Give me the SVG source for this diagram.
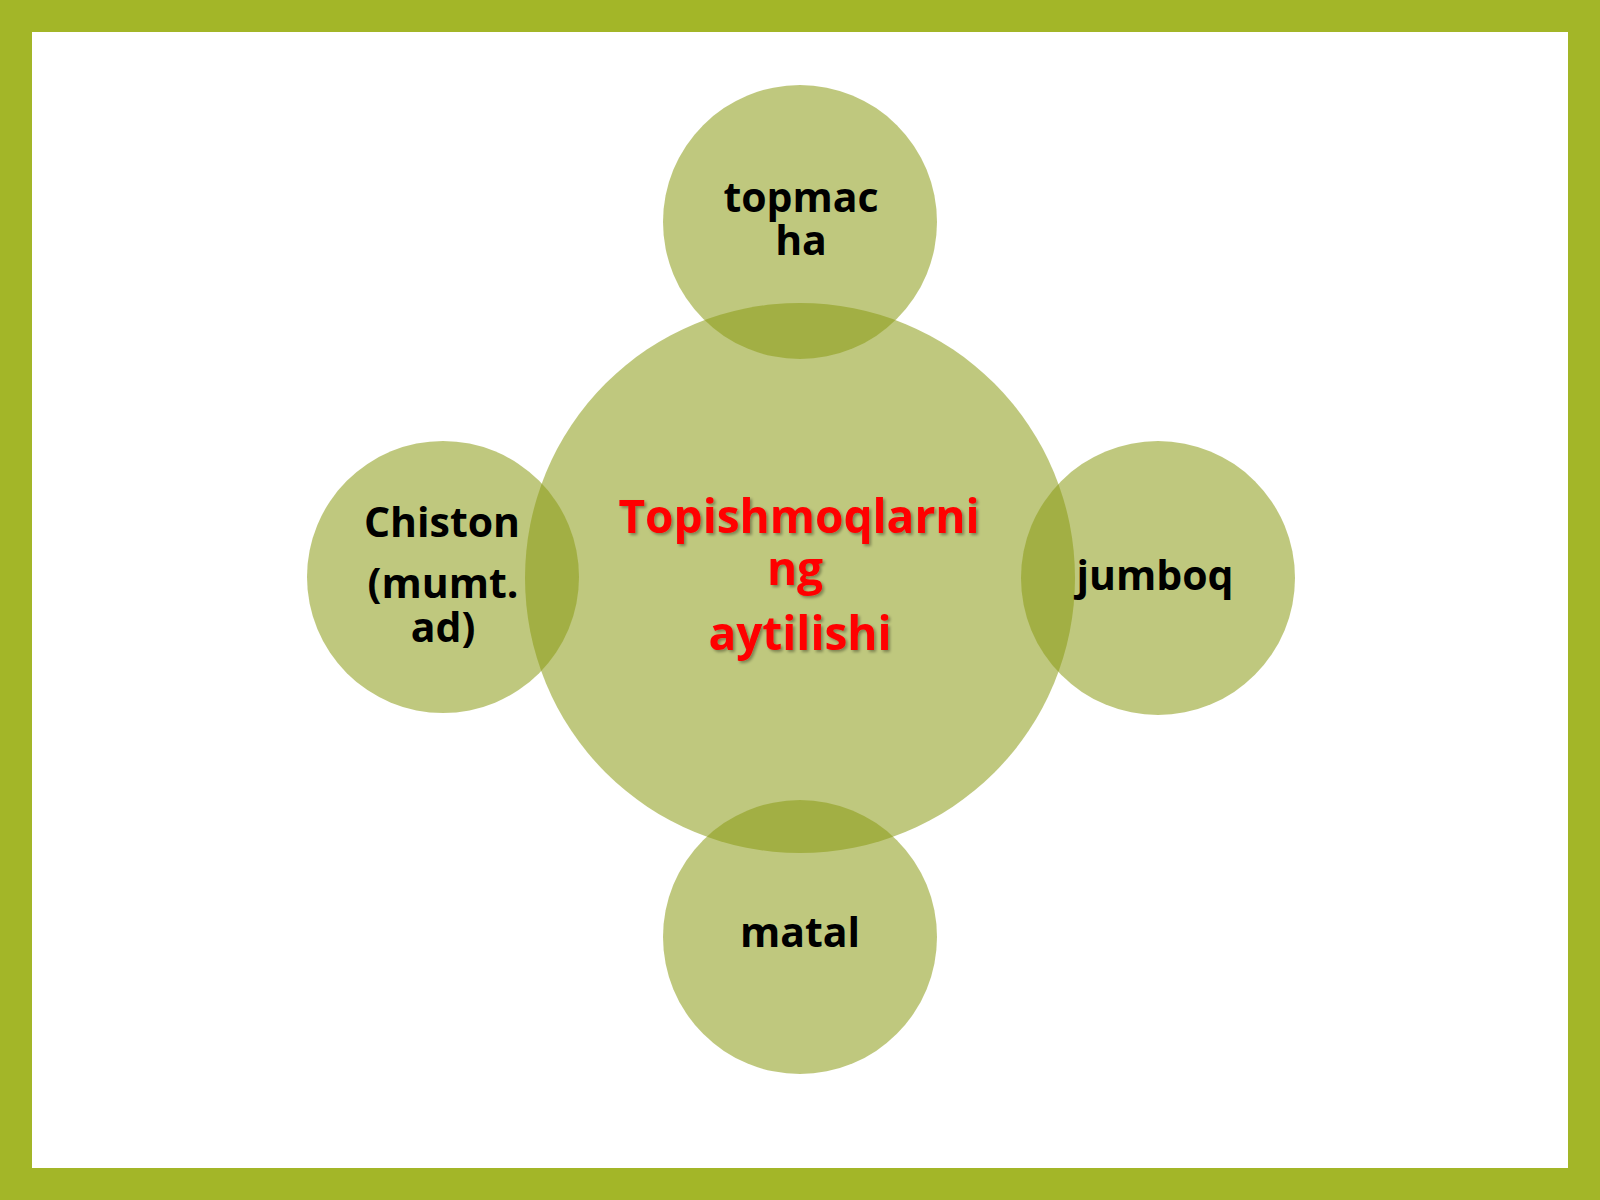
<svg xmlns="http://www.w3.org/2000/svg" width="1600" height="1200" viewBox="0 0 1600 1200">
  <defs>
    <filter id="txtShadow" x="-10%" y="-20%" width="120%" height="150%">
      <feDropShadow dx="2" dy="2" stdDeviation="1.5" flood-color="#000000" flood-opacity="0.35"/>
    </filter>
    <filter id="softShadow" x="-10%" y="-10%" width="120%" height="120%">
      <feDropShadow dx="0" dy="2" stdDeviation="3" flood-color="#5a6a10" flood-opacity="0.18"/>
    </filter>
  </defs>
  <style>
    .bubble { fill: rgb(138,154,20); fill-opacity: 0.55; }
    .lbl { font-family: "Open Sans", "Noto Sans", "DejaVu Sans", sans-serif; font-weight: bold; font-size: 41px; fill: #000000; text-anchor: middle; }
    .main { font-family: "Open Sans", "Noto Sans", "DejaVu Sans", sans-serif; font-weight: bold; font-size: 46px; fill: #FF0000; text-anchor: middle; filter: url(#txtShadow); }
  </style>

  <!-- frame -->
  <rect x="0" y="0" width="1600" height="1200" fill="#A3B628"/>
  <rect x="32" y="32" width="1536" height="1136" fill="#FFFFFF"/>

  <g id="connectors"/>

  <g id="node-center">
    <circle class="bubble" cx="800" cy="578" r="275"/>
  </g>
  <g id="node-top">
    <circle class="bubble" cx="800" cy="222" r="137"/>
  </g>
  <g id="node-left">
    <circle class="bubble" cx="443" cy="577" r="136"/>
  </g>
  <g id="node-right">
    <circle class="bubble" cx="1158" cy="578" r="137"/>
  </g>
  <g id="node-bottom">
    <circle class="bubble" cx="800" cy="937" r="137"/>
  </g>

  <g id="labels">
    <text class="main" x="799" y="533">Topishmoqlarni</text>
    <text class="main" x="795" y="585">ng</text>
    <text class="main" x="800" y="650">aytilishi</text>

    <text class="lbl" x="801" y="212">topmac</text>
    <text class="lbl" x="801" y="255">ha</text>

    <text class="lbl" x="442" y="537">Chiston</text>
    <text class="lbl" x="443" y="598">(mumt.</text>
    <text class="lbl" x="443" y="642">ad)</text>

    <text class="lbl" x="1155" y="590">jumboq</text>

    <text class="lbl" x="800" y="947">matal</text>
  </g>
</svg>
